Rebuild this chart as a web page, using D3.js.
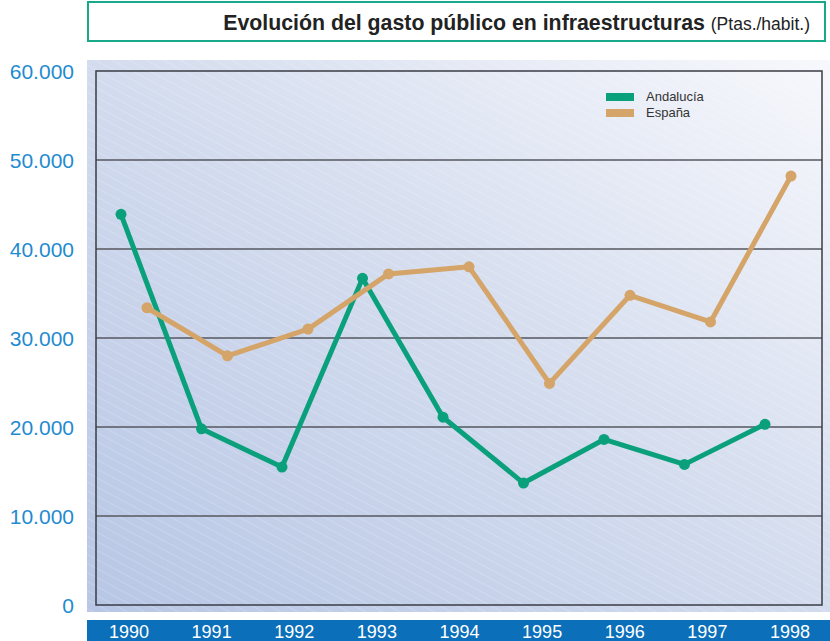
<!DOCTYPE html>
<html lang="es">
<head>
<meta charset="UTF-8" />
<title>Evolución del gasto público en infraestructuras</title>
<script src="https://d3js.org/d3.v7.min.js"></script>
<style>
  body { margin: 0; background: #fff; font-family: "Liberation Sans", Arial, sans-serif; }
</style>
</head>
<body>
<svg width="830" height="641"></svg>
<script>
const years = ["1990", "1991", "1992", "1993", "1994", "1995", "1996", "1997", "1998"];
const andalucia = [43900, 19800, 15500, 36700, 21100, 13700, 18600, 15800, 20300];
const espana = [33400, 28000, 31000, 37200, 38000, 24900, 34800, 31800, 48200];
const yTicks = [0, 10000, 20000, 30000, 40000, 50000, 60000];
const seriesNames = ["Andalucía", "España"];
const colors = ["#0aa07c", "#d4a469"];

const svg = d3.select("svg");

// frame of the plot
const plot = { left: 96, right: 822, top: 71, bottom: 605 };

const y = d3.scaleLinear().domain([0, 60000]).range([plot.bottom, plot.top]);
const xCenter = d3.scalePoint().domain(years).range([134, 778]);
const xLabel = d3.scalePoint().domain(years).range([129, 790]);
const offsets = [-13, 13];

const fmt = v => d3.format(",")(v).replace(/,/g, ".");

// title box
svg.append("rect")
  .attr("x", 88).attr("y", 2).attr("width", 737).attr("height", 39)
  .attr("fill", "#fff").attr("stroke", "#17a98a").attr("stroke-width", 2);

const title = svg.append("text")
  .attr("x", 810).attr("y", 30)
  .attr("text-anchor", "end")
  .attr("fill", "#222");
title.append("tspan").attr("font-weight", "bold").attr("font-size", 21.3)
  .text("Evolución del gasto público en infraestructuras ");
title.append("tspan").attr("font-size", 17.5).text("(Ptas./habit.)");

// background panel with gradient + diagonal stripes
const defs = svg.append("defs");
const grad = defs.append("linearGradient").attr("id", "bg")
  .attr("x1", "0%").attr("y1", "100%").attr("x2", "100%").attr("y2", "0%");
grad.append("stop").attr("offset", "0%").attr("stop-color", "#b7c6e5");
grad.append("stop").attr("offset", "55%").attr("stop-color", "#d6deef");
grad.append("stop").attr("offset", "100%").attr("stop-color", "#f7f8fc");

const pat = defs.append("pattern").attr("id", "stripes")
  .attr("width", 8).attr("height", 8)
  .attr("patternUnits", "userSpaceOnUse")
  .attr("patternTransform", "rotate(28)");
pat.append("line").attr("x1", 0).attr("y1", 0).attr("x2", 8).attr("y2", 0)
  .attr("stroke", "#fff").attr("stroke-opacity", 0.35).attr("stroke-width", 1);

svg.append("rect").attr("x", 87).attr("y", 60).attr("width", 743).attr("height", 552)
  .attr("fill", "url(#bg)");
svg.append("rect").attr("x", 87).attr("y", 60).attr("width", 743).attr("height", 552)
  .attr("fill", "url(#stripes)");

// grid lines
svg.append("g").selectAll("line")
  .data(yTicks.filter(d => d > 0 && d < 60000))
  .join("line")
  .attr("x1", plot.left).attr("x2", plot.right)
  .attr("y1", d => y(d)).attr("y2", d => y(d))
  .attr("stroke", "#55575f").attr("stroke-width", 1.3);

// frame
svg.append("rect")
  .attr("x", plot.left).attr("y", plot.top)
  .attr("width", plot.right - plot.left).attr("height", plot.bottom - plot.top)
  .attr("fill", "none").attr("stroke", "#3a3c44").attr("stroke-width", 1.5);

// y labels
svg.append("g").selectAll("text")
  .data(yTicks)
  .join("text")
  .attr("x", 74).attr("y", d => y(d) + 8)
  .attr("text-anchor", "end")
  .attr("font-size", 21)
  .attr("fill", "#1f8bd0")
  .text(d => fmt(d));

// x label bar
svg.append("rect").attr("x", 87).attr("y", 620).attr("width", 743).attr("height", 21)
  .attr("fill", "#0b6fba");
svg.append("g").selectAll("text")
  .data(years)
  .join("text")
  .attr("x", d => xLabel(d)).attr("y", 638)
  .attr("text-anchor", "middle")
  .attr("font-family", "'Liberation Sans Narrow', 'Liberation Sans', sans-serif")
  .attr("font-size", 18)
  .attr("fill", "#fff")
  .text(d => d);

// series
const series = [andalucia, espana];
const line = d3.line();
series.forEach((vals, i) => {
  const pts = vals.map((v, j) => [xCenter(years[j]) + offsets[i], y(v)]);
  svg.append("path")
    .attr("d", line(pts))
    .attr("fill", "none")
    .attr("stroke", colors[i])
    .attr("stroke-width", 5)
    .attr("stroke-linejoin", "round");
  svg.append("g").selectAll("circle")
    .data(pts)
    .join("circle")
    .attr("cx", d => d[0]).attr("cy", d => d[1])
    .attr("r", 5.5)
    .attr("fill", colors[i]);
});

// legend
const legend = svg.append("g").attr("transform", "translate(606,93)");
seriesNames.forEach((name, i) => {
  legend.append("rect").attr("x", 0).attr("y", i * 16)
    .attr("width", 28).attr("height", 8).attr("fill", colors[i]);
  legend.append("text").attr("x", 40).attr("y", i * 16 + 8)
    .attr("font-size", 13).attr("fill", "#333").text(name);
});
</script>
</body>
</html>
